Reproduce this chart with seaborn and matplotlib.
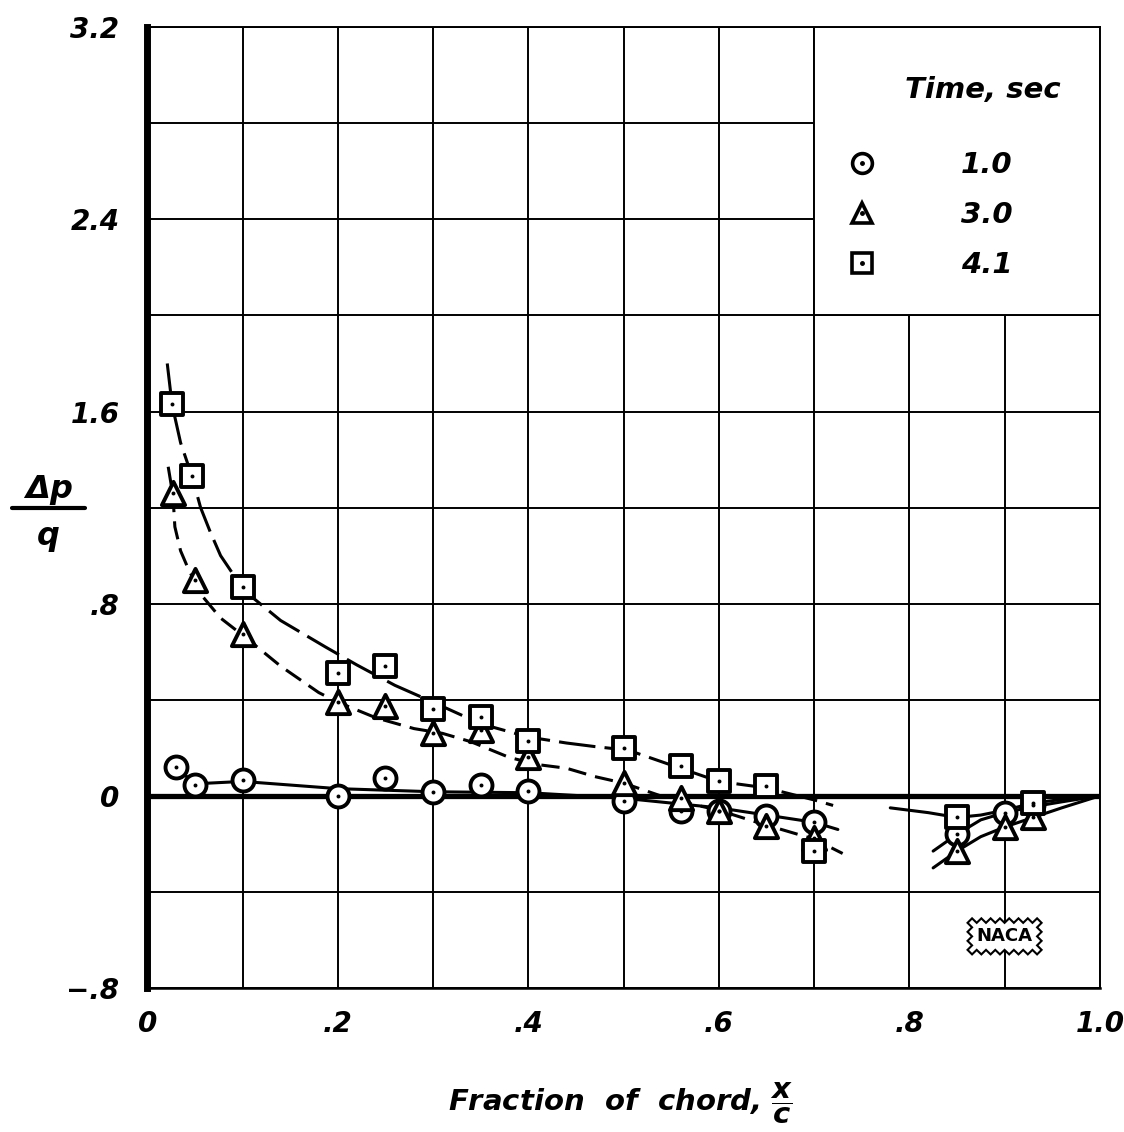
import numpy as np
import pandas as pd
import matplotlib
matplotlib.use("Agg")
import matplotlib.pyplot as plt
import seaborn as sns
from matplotlib.lines import Line2D
from matplotlib.patches import Rectangle

# measured points, x/c and delta p / q
x_c1 = [0.03, 0.05, 0.10, 0.20, 0.25, 0.30, 0.35, 0.40, 0.50, 0.56, 0.60, 0.65, 0.70, 0.85, 0.90, 0.93]
dp_c1 = [0.12, 0.045, 0.065, 0.0, 0.075, 0.015, 0.045, 0.02, -0.02, -0.065, -0.065, -0.085, -0.11, -0.16, -0.07, -0.04]

x_t3 = [0.027, 0.05, 0.10, 0.20, 0.25, 0.30, 0.35, 0.40, 0.50, 0.56, 0.60, 0.65, 0.70, 0.85, 0.90, 0.93]
dp_t3 = [1.26, 0.90, 0.675, 0.39, 0.375, 0.26, 0.275, 0.16, 0.055, -0.01, -0.065, -0.125, -0.175, -0.23, -0.13, -0.09]

x_s4 = [0.026, 0.047, 0.10, 0.20, 0.25, 0.30, 0.35, 0.40, 0.50, 0.56, 0.60, 0.65, 0.70, 0.85, 0.93]
dp_s4 = [1.63, 1.33, 0.87, 0.51, 0.54, 0.36, 0.33, 0.23, 0.20, 0.125, 0.06, 0.04, -0.23, -0.09, -0.03]

# faired curves
fc1_x = [0.03, 0.05, 0.10, 0.20, 0.30, 0.40, 0.50, 0.55, 0.60, 0.65, 0.70, 0.725]
fc1_y = [0.12, 0.05, 0.06, 0.03, 0.017, 0.013, -0.01, -0.03, -0.05, -0.08, -0.11, -0.14]
fc1r_x = [0.825, 0.85, 0.875, 0.90, 0.93, 0.96, 1.0]
fc1r_y = [-0.23, -0.16, -0.10, -0.07, -0.045, -0.025, 0.0]

ft3_x = [0.022, 0.027, 0.029, 0.035, 0.042, 0.05, 0.056, 0.077, 0.103, 0.14, 0.18, 0.20, 0.24, 0.28, 0.31, 0.34,
         0.38, 0.41, 0.44, 0.47, 0.50, 0.55, 0.60, 0.64, 0.70, 0.73]
ft3_y = [1.37, 1.25, 1.12, 1.02, 0.955, 0.89, 0.84, 0.74, 0.66, 0.54, 0.43, 0.39, 0.325, 0.28, 0.26, 0.225,
         0.16, 0.13, 0.115, 0.08, 0.053, -0.015, -0.06, -0.11, -0.18, -0.24]
ft3r_x = [0.825, 0.85, 0.875, 0.90, 0.93, 0.96, 1.0]
ft3r_y = [-0.30, -0.23, -0.17, -0.13, -0.09, -0.05, 0.0]

fs4_x = [0.021, 0.026, 0.035, 0.047, 0.056, 0.066, 0.077, 0.094, 0.10, 0.14, 0.187, 0.22, 0.26, 0.30, 0.35,
         0.40, 0.44, 0.47, 0.505, 0.556, 0.60, 0.65, 0.70, 0.72]
fs4_y = [1.80, 1.63, 1.47, 1.33, 1.20, 1.10, 1.00, 0.90, 0.86, 0.73, 0.62, 0.545, 0.46, 0.39, 0.30,
         0.245, 0.22, 0.205, 0.19, 0.12, 0.06, 0.033, -0.017, -0.04]
fs4r_x = [0.78, 0.82, 0.85, 0.875, 0.90, 0.93, 0.96, 1.0]
fs4r_y = [-0.05, -0.07, -0.09, -0.08, -0.06, -0.03, -0.015, 0.0]

times = ["1.0", "3.0", "4.1"]
markers = ["o", "^", "s"]

x_ticks = [0, 0.2, 0.4, 0.6, 0.8, 1.0]
x_ticklabels = ["0", ".2", ".4", ".6", ".8", "1.0"]
y_ticks = [-0.8, 0, 0.8, 1.6, 2.4, 3.2]
y_ticklabels = ["\u2212.8", "0", ".8", "1.6", "2.4", "3.2"]

sns.set_style("white")
plt.rcParams["font.family"] = ["DejaVu Sans"]
plt.rcParams["text.color"] = "black"
plt.rcParams["axes.labelcolor"] = "black"
plt.rcParams["xtick.color"] = "black"
plt.rcParams["ytick.color"] = "black"
plt.rcParams["mathtext.fontset"] = "custom"
plt.rcParams["mathtext.it"] = "DejaVu Sans:italic:bold"
plt.rcParams["mathtext.rm"] = "DejaVu Sans:italic:bold"
plt.rcParams["mathtext.bf"] = "DejaVu Sans:italic:bold"

fig = plt.figure(figsize=(11.24, 11.32), dpi=100)
ax = fig.add_axes([0.131, 0.1272, 0.8475, 0.8488])

lab_font = dict(fontsize=20, fontweight="bold", fontstyle="italic", color="black")

# grid
xgrid = np.round(np.arange(0, 1.01, 0.1), 2)
ygrid = np.round(np.arange(-0.8, 3.21, 0.4), 2)
ax.set_xlim(0, 1.0)
ax.set_ylim(-0.8, 3.2)
ax.set_xticks(xgrid)
ax.set_yticks(ygrid)
ax.grid(True, color="black", lw=1.4, zorder=0)
ax.set_xticklabels([x_ticklabels[x_ticks.index(t)] if t in x_ticks else "" for t in xgrid], **lab_font)
ax.set_yticklabels([y_ticklabels[y_ticks.index(t)] if t in y_ticks else "" for t in ygrid], **lab_font)
ax.tick_params(length=0)
ax.tick_params(axis="x", pad=16)
ax.tick_params(axis="y", pad=20)
for s in ax.spines.values():
    s.set_color("black")
    s.set_linewidth(1.4)
ax.spines["left"].set_linewidth(5)
ax.spines["bottom"].set_linewidth(1.8)

ax.axhline(0, color="black", lw=3.8, zorder=1)

# legend block, blanks out grid cells
ax.add_patch(Rectangle((0.7, 2.0), 0.3, 1.2, facecolor="white", edgecolor="black", lw=1.4, zorder=1.5))

line_kw = dict(color="black", lw=2.2, estimator=None, sort=False, legend=False, ax=ax, zorder=2)
sns.lineplot(x=fc1_x, y=fc1_y, **line_kw)
sns.lineplot(x=fc1r_x, y=fc1r_y, **line_kw)
sns.lineplot(x=ft3_x, y=ft3_y, linestyle=(0, (6, 3)), **line_kw)
sns.lineplot(x=ft3r_x, y=ft3r_y, **line_kw)
sns.lineplot(x=fs4_x, y=fs4_y, linestyle=(0, (12, 3)), **line_kw)
sns.lineplot(x=fs4r_x, y=fs4r_y, **line_kw)

series = [(x_c1, dp_c1), (x_t3, dp_t3), (x_s4, dp_s4)]
sizes = [250, 280, 250]
for (xs, ys), m, sz in zip(series, markers, sizes):
    sns.scatterplot(x=xs, y=ys, marker=m, s=sz, facecolor="white", edgecolor="black",
                    linewidth=2.8, ax=ax, zorder=3, legend=False)
    sns.scatterplot(x=xs, y=ys, marker="o", s=8, color="black", linewidth=0, ax=ax, zorder=4, legend=False)

handles = []
for m, sz in zip(markers, sizes):
    h1 = Line2D([], [], marker=m, ls="none", markersize=np.sqrt(sz) * 0.9, markerfacecolor="white",
                markeredgecolor="black", markeredgewidth=2.6)
    h2 = Line2D([], [], marker="o", ls="none", markersize=2.5, color="black")
    handles.append((h1, h2))
leg = ax.legend(handles, times, loc="upper left", bbox_to_anchor=(0.735, 0.871),
                frameon=False, prop=dict(size=21, weight="bold", style="italic"),
                handlelength=1.0, handletextpad=2.9, labelspacing=0.76,
                borderaxespad=0, borderpad=0)
leg.set_zorder(5)
for t in leg.get_texts():
    t.set_color("black")
ax.text(0.877, 2.94, "Time, sec", ha="center", va="center", fontsize=21, fontweight="bold",
        fontstyle="italic", zorder=5)

ax.text(0.9, -0.585, "NACA", ha="center", va="center", fontsize=13, fontweight="bold",
        bbox=dict(boxstyle="sawtooth,pad=0.5,tooth_size=0.25", fc="white", ec="black", lw=1.5), zorder=5)

fig.text(0.043, 0.567, r"$\Delta p$", ha="center", va="center", fontsize=23)
fig.add_artist(Line2D([0.011, 0.076], [0.551, 0.551], transform=fig.transFigure, color="black", lw=3))
fig.text(0.043, 0.524, r"$q$", ha="center", va="center", fontsize=23)

fig.text(0.552, 0.025, r"Fraction  of  chord, $\dfrac{x}{c}$", ha="center", va="center",
         fontsize=21, fontweight="bold", fontstyle="italic")

fig.savefig("out.png", dpi=100)
